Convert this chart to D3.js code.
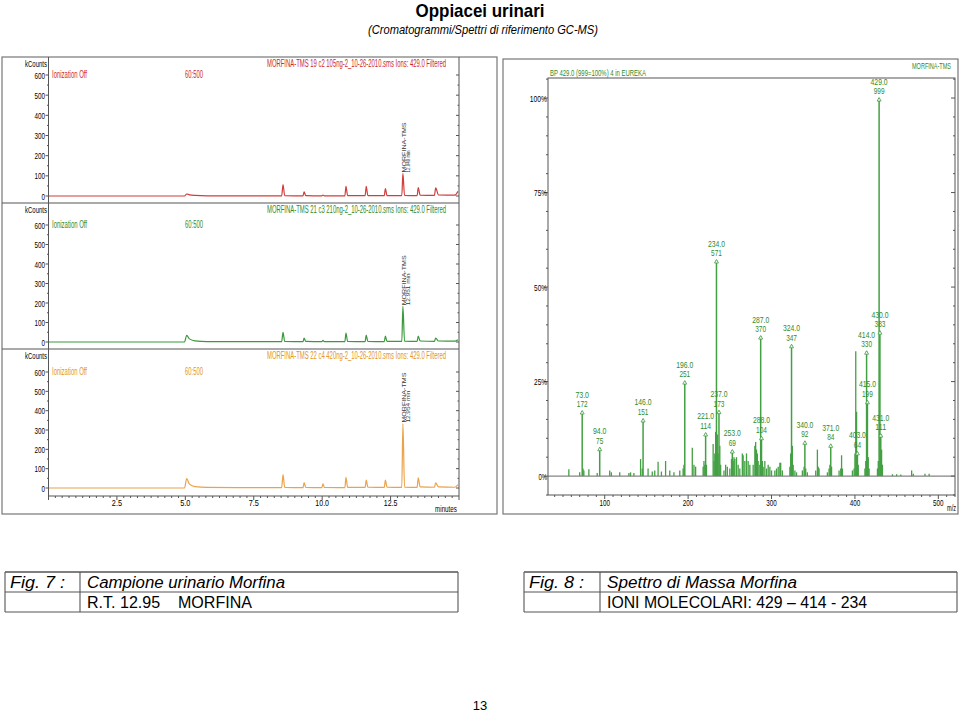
<!DOCTYPE html>
<html><head><meta charset="utf-8">
<script src="https://cdn.jsdelivr.net/npm/d3@7/dist/d3.min.js"></script>
<style>
body{margin:0;background:#fff}
svg{display:block}
text{font-family:"Liberation Sans Narrow","Liberation Sans",Arial,sans-serif}
</style>
</head><body>
<svg id="c" width="960" height="712"></svg>
<script>
// ---------------- DATA ----------------
const chromTimes  = [0,4.97,5.05,5.15,5.35,5.8, 8.52,8.57,8.63, 9.30,9.34,9.40, 9.99,10.03,10.08, 10.83,10.87,10.93, 11.57,11.61,11.67, 12.27,12.31,12.37, 12.91,12.95,13.01, 13.47,13.51,13.58, 14.10,14.15,14.25, 14.85,14.96];
const chromRed    = [0,0,10,6,3,1, 1,57,2, 1,20,2, 1,5,1, 1,48,2, 2,48,2, 2,37,2, 2,112,3, 2,42,4, 3,40,5, 4,23];
const chromGreen  = [0,0,34,16,6,2, 2,50,3, 2,20,3, 2,8,2, 2,46,3, 2,35,3, 2,30,3, 3,183,4, 3,30,5, 3,20,5, 4,12];
const chromOrange = [0,0,48,20,7,3, 2,69,3, 2,28,3, 2,22,3, 2,55,3, 3,41,4, 3,41,4, 3,333,5, 3,53,6, 4,26,6, 4,17];
const chromTitles = [
  "MORFINA-TMS 19 c2 105ng-2_10-26-2010.sms Ions: 429.0 Filtered",
  "MORFINA-TMS 21 c3 210ng-2_10-26-2010.sms Ions: 429.0 Filtered",
  "MORFINA-TMS 22 c4 420ng-2_10-26-2010.sms Ions: 429.0 Filtered"];
const chromPeakName = "MORFINA-TMS";
const chromPeakRT   = ["12.949 min","12.951 min","12.954 min"];
const chromPeakTime = 12.95;
const chromYTicks = [0,100,200,300,400,500,600];
const chromXTicks = [2.5,5.0,7.5,10.0,12.5];
const chromXTickLabels = ["2.5","5.0","7.5","10.0","12.5"];

const specLabelMz  = [429,234,430,287,324,414,196,415,237,73,146,221,431,288,340,371,94,253,403];
const specLabelInt = [999,571,383,370,347,330,251,199,173,172,151,114,111,104,92,84,75,69,64];
const specMinorMz  = [57,70,74,75,81,91,106,108,118,129,131,135,143,145,152,157,160,164,168,173,178,183,190,194,195,205,207,209,218,219,220,222,230,231,232,233,235,236,238,239,243,245,247,250,252,254,255,256,258,260,262,265,266,268,270,272,274,278,280,281,282,283,284,286,289,290,292,294,296,298,300,304,306,308,310,311,313,322,323,325,326,328,330,337,339,341,343,353,355,356,357,367,369,370,372,381,383,384,385,397,399,400,401,402,404,412,413,416,417,427,428,432,433,445,450,455,468,470,484,489];
const specMinorInt = [18,10,20,15,18,8,15,10,10,8,10,8,45,20,20,12,15,38,12,40,15,10,15,20,30,75,30,25,25,40,30,30,85,40,60,117,110,60,80,30,15,30,25,20,45,40,50,45,50,30,20,60,55,40,60,40,30,30,80,90,70,60,40,30,40,25,40,20,30,25,15,15,20,25,35,35,15,25,60,80,30,15,10,15,25,20,10,15,70,25,20,10,20,30,25,15,20,55,20,15,20,60,330,170,30,20,40,50,20,20,40,70,30,5,5,4,15,6,6,6];
const specYTicks = [0,25,50,75,100];
const specYTickLabels = ["0%","25%","50%","75%","100%"];
const specXTicks = [100,200,300,400,500];

// ---------------- DRAW ----------------
const svg = d3.select("#c");
const FRAME = "#555";

function ntext(parent, x, y, str, o={}) {
  const t = parent.append("text").attr("x", x).attr("y", y).text(str)
    .attr("font-size", o.size || 9).attr("fill", o.color || "#000")
    .attr("text-anchor", o.anchor || "start");
  if (o.weight) t.attr("font-weight", o.weight);
  if (o.style) t.attr("font-style", o.style);
  if (o.len) t.attr("textLength", o.len).attr("lengthAdjust", "spacingAndGlyphs");
  return t;
}

// Title
ntext(svg, 480, 17, "Oppiacei urinari", {size:19, anchor:"middle", weight:"bold", len:129});
ntext(svg, 483, 34, "(Cromatogrammi/Spettri di riferimento GC-MS)", {size:13, anchor:"middle", style:"italic", len:230});

// ---------- Chromatograms ----------
const xc = d3.scaleLinear().domain([0, 15]).range([48.5, 459]);
const panels = [
  {vals: chromRed,    color:"#d23c3c", tcol:"#cc2a2a", top:57,  y0:196, y6:75},
  {vals: chromGreen,  color:"#3a9a3a", tcol:"#2e8b2e", top:203, y0:342, y6:225},
  {vals: chromOrange, color:"#eba24a", tcol:"#e2961e", top:349, y0:488, y6:372}
];
const gc = svg.append("g");
gc.append("rect").attr("x",2).attr("y",57).attr("width",495).attr("height",457)
  .attr("fill","none").attr("stroke","#777").attr("stroke-width",1.2);

panels.forEach((p, i) => {
  const y = d3.scaleLinear().domain([0, 600]).range([p.y0, p.y6]);
  if (i > 0) gc.append("line").attr("x1",2).attr("x2",459).attr("y1",p.top).attr("y2",p.top)
      .attr("stroke", FRAME).attr("stroke-width",1);
  chromYTicks.forEach(v => {
    gc.append("line").attr("x1",45.5).attr("x2",48.5).attr("y1",y(v)).attr("y2",y(v)).attr("stroke",FRAME);
    gc.append("line").attr("x1",456).attr("x2",459).attr("y1",y(v)).attr("y2",y(v)).attr("stroke",FRAME);
    ntext(gc, 45, y(v)+3.5, String(v), {size:9.5, anchor:"end", len: String(v).length*3.5});
  });
  d3.range(50, 600, 100).forEach(v => {
    gc.append("line").attr("x1",47).attr("x2",48.5).attr("y1",y(v)).attr("y2",y(v)).attr("stroke",FRAME);
    gc.append("line").attr("x1",457.5).attr("x2",459).attr("y1",y(v)).attr("y2",y(v)).attr("stroke",FRAME);
  });
  ntext(gc, 47, p.top+10, "kCounts", {size:9.5, anchor:"end", len:22});
  ntext(gc, 52, p.y6+3, "Ionization Off", {size:10, color:p.tcol, len:35});
  ntext(gc, 185, p.y6+3, "60:500", {size:10, color:p.tcol, len:18});
  ntext(gc, 267, p.top+10, chromTitles[i], {size:10, color:p.tcol, len:179});
  const line = d3.line().x((d,k) => xc(chromTimes[k])).y(d => y(d)).curve(d3.curveMonotoneX);
  gc.append("path").datum(p.vals).attr("d", line).attr("fill","none")
    .attr("stroke", p.color).attr("stroke-width",1.2);
  const k = chromTimes.indexOf(chromPeakTime);
  const px = xc(chromPeakTime), py = y(p.vals[k]) - 1;
  const lg = gc.append("g").attr("transform", `translate(${px+3},${py}) rotate(-90)`);
  ntext(lg, 0, 0, chromPeakName, {size:6, color:"#333", len:50});
  ntext(lg, 0, 4.5, chromPeakRT[i], {size:4.5, color:"#333", len: i===0?22:32});
});
gc.append("line").attr("x1",48.5).attr("x2",48.5).attr("y1",57).attr("y2",496).attr("stroke",FRAME);
gc.append("line").attr("x1",459).attr("x2",459).attr("y1",57).attr("y2",496).attr("stroke",FRAME);
gc.append("line").attr("x1",48.5).attr("x2",459).attr("y1",496).attr("y2",496).attr("stroke",FRAME);
d3.range(0, 15.01, 0.25).forEach(t => {
  const major = Math.abs(t/2.5 - Math.round(t/2.5)) < 1e-6;
  gc.append("line").attr("x1",xc(t)).attr("x2",xc(t)).attr("y1",496).attr("y2",major?500:498).attr("stroke",FRAME);
});
chromXTicks.forEach((t,j) => ntext(gc, xc(t), 506, chromXTickLabels[j], {size:9.5, anchor:"middle", len: chromXTickLabels[j].length*3.4}));
ntext(gc, 457, 512, "minutes", {size:9.5, anchor:"end", len:22});

// ---------- Mass spectrum ----------
const gs = svg.append("g");
const xs = d3.scaleLinear().domain([32, 520]).range([548, 955]);
const ys = d3.scaleLinear().domain([-5, 105.3]).range([495, 78]);
const GREEN = "#43a043";
gs.append("rect").attr("x",503).attr("y",59).attr("width",455).attr("height",455)
  .attr("fill","none").attr("stroke","#777").attr("stroke-width",1.2);
gs.append("rect").attr("x",548).attr("y",78).attr("width",407).attr("height",417)
  .attr("fill","none").attr("stroke",FRAME);
ntext(gs, 951, 69, "MORFINA-TMS", {size:9, color:"#2e8b2e", anchor:"end", len:39});
ntext(gs, 550, 76, "BP 429.0 (999=100%) 4 in EUREKA", {size:9.5, color:"#2e8b2e", len:96});
d3.range(-5, 105.1, 5).forEach(v => {
  const major = v % 25 === 0;
  gs.append("line").attr("x1", major?544:546).attr("x2",548).attr("y1",ys(v)).attr("y2",ys(v)).attr("stroke",FRAME);
  gs.append("line").attr("x1",955).attr("x2", major?951:953).attr("y1",ys(v)).attr("y2",ys(v)).attr("stroke",FRAME);
});
specYTicks.forEach((v,j) => ntext(gs, 547, ys(v)+3.5, specYTickLabels[j], {size:9.5, anchor:"end", len: specYTickLabels[j].length*4.3}));
gs.append("line").attr("x1",548).attr("x2",955).attr("y1",ys(0)).attr("y2",ys(0)).attr("stroke","#666");
d3.range(40, 521, 10).forEach(m => {
  const major = m % 100 === 0;
  gs.append("line").attr("x1",xs(m)).attr("x2",xs(m)).attr("y1",495).attr("y2",major?499:497).attr("stroke",FRAME);
});
specXTicks.forEach(m => ntext(gs, xs(m), 506, String(m), {size:9.5, anchor:"middle", len:10.5}));
ntext(gs, 956, 511, "m/z", {size:9, anchor:"end", len:9});
const pct = v => v / 999 * 100;
specMinorMz.forEach((m,j) => {
  gs.append("line").attr("x1",xs(m)).attr("x2",xs(m)).attr("y1",ys(0)).attr("y2",ys(pct(specMinorInt[j])))
    .attr("stroke", GREEN).attr("stroke-width",1.3);
});
specLabelMz.forEach((m,j) => {
  const x = xs(m), yt = ys(pct(specLabelInt[j]));
  gs.append("line").attr("x1",x).attr("x2",x).attr("y1",ys(0)).attr("y2",yt)
    .attr("stroke", GREEN).attr("stroke-width",1.5);
  gs.append("path").attr("d", `M${x},${yt-0.5}L${x-2},${yt+3}L${x+2},${yt+3}Z`)
    .attr("fill","#fff").attr("stroke",GREEN).attr("stroke-width",0.8);
  ntext(gs, x, yt-4, String(specLabelInt[j]), {size:8.5, color:"#2e8b2e", anchor:"middle", len:String(specLabelInt[j]).length*3.6});
  const ml = m.toFixed(1);
  ntext(gs, x, yt-13.5, ml, {size:8.5, color:"#2e8b2e", anchor:"middle", len:ml.length*3.4});
});

// ---------- Caption tables ----------
function captionTable(x0, xDiv, x1, figTxt, r1, r2, lens) {
  const g = svg.append("g");
  [572, 592, 612].forEach((yy,k) => g.append("line").attr("x1",x0).attr("x2",x1).attr("y1",yy).attr("y2",yy)
    .attr("stroke", "#555").attr("stroke-width", k===0?1.6:1.1));
  [x0, xDiv, x1].forEach(xx => g.append("line").attr("x1",xx).attr("x2",xx).attr("y1",572).attr("y2",612)
    .attr("stroke","#555").attr("stroke-width",1.1));
  ntext(g, x0+5, 588, figTxt, {size:16, style:"italic", len:lens[0]});
  ntext(g, xDiv+7, 588, r1, {size:16, style:"italic", len:lens[1]});
  ntext(g, xDiv+7, 608, r2, {size:16, len:lens[2]}).style("white-space","pre");
}
captionTable(5, 80, 458, "Fig. 7 :", "Campione urinario Morfina", "R.T. 12.95\u00a0\u00a0\u00a0\u00a0MORFINA", [55, 198, 165]);
captionTable(524, 600, 957, "Fig. 8 :", "Spettro di Massa Morfina", "IONI MOLECOLARI: 429 \u2013 414 - 234", [55, 190, 260]);

ntext(svg, 480, 710, "13", {size:13, anchor:"middle"});
</script>
</body></html>
